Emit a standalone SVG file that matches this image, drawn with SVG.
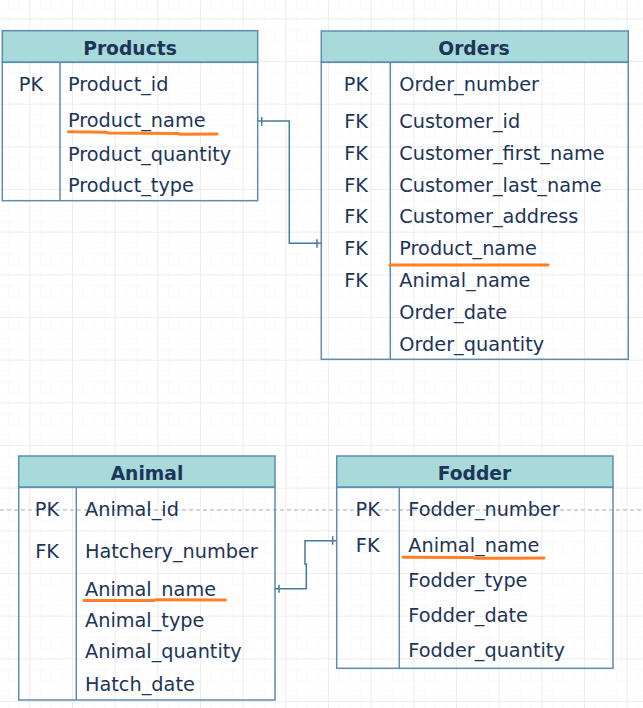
<svg xmlns="http://www.w3.org/2000/svg" width="643" height="708" viewBox="0 0 643 708">
<defs>
<pattern id="minor" x="29.3" y="18.3" width="10.667" height="10.667" patternUnits="userSpaceOnUse">
<path d="M0 0H10.667M0 0V10.667" fill="none" stroke="#f3f3f3" stroke-width="1"/>
</pattern>
<pattern id="major" x="29.3" y="18.3" width="42.667" height="42.667" patternUnits="userSpaceOnUse">
<path d="M0 0H42.667M0 0V42.667" fill="none" stroke="#e4e4e4" stroke-width="1.2"/>
</pattern>
<style>
.hdr{fill:#A8DADC;stroke:#5D8DB0;stroke-width:1.5}
.box{fill:none;stroke:#5D8DB0;stroke-width:1.5}
.ttl{font-family:"DejaVu Sans",Verdana,sans-serif;font-weight:bold;font-size:18.7px;fill:#1D3557;text-anchor:middle}
.txt{font-family:"DejaVu Sans",Verdana,sans-serif;font-size:19.3px;fill:#1D3557}
.key{font-family:"DejaVu Sans",Verdana,sans-serif;font-size:19.3px;fill:#1D3557;text-anchor:middle}
.ul{fill:none;stroke:#FF7F27;stroke-width:3;stroke-linecap:round}
.con{fill:none;stroke:#457B9D;stroke-width:1.5}
</style>
</defs>
<rect width="643" height="708" fill="#ffffff"/>
<rect width="643" height="708" fill="url(#minor)"/>
<rect width="643" height="708" fill="url(#major)"/>
<line x1="0" y1="510" x2="643" y2="510" stroke="#c6c6c6" stroke-width="1.5" stroke-dasharray="4 3"/>

<g id="products">
<rect class="hdr" x="2.3" y="30.7" width="255.4" height="31.6"/>
<rect class="box" x="2.3" y="62.3" width="255.4" height="138.4"/>
<line class="box" x1="60" y1="62.3" x2="60" y2="200.7"/>
<text class="ttl" x="130" y="55">Products</text>
<text class="key" x="31" y="91">PK</text>
<text class="txt" x="68" y="91">Product_id</text>
<text class="txt" x="68" y="127.3">Product_name</text>
<text class="txt" x="68" y="160.7">Product_quantity</text>
<text class="txt" x="68" y="191.7">Product_type</text>
<path class="ul" d="M68.5 131.8L106 132.2L108 133L178 133.4L180 134.2L217 134"/>
</g>

<g id="orders">
<rect class="hdr" x="321.3" y="31" width="307" height="31.3"/>
<rect class="box" x="321.3" y="62.3" width="307" height="297"/>
<line class="box" x1="390.3" y1="62.3" x2="390.3" y2="359.3"/>
<text class="ttl" x="474" y="54.5">Orders</text>
<text class="key" x="356" y="90.7">PK</text>
<text class="key" x="356" y="127.7">FK</text>
<text class="key" x="356" y="160">FK</text>
<text class="key" x="356" y="191.7">FK</text>
<text class="key" x="356" y="223.3">FK</text>
<text class="key" x="356" y="255">FK</text>
<text class="key" x="356" y="287.3">FK</text>
<text class="txt" x="399.3" y="90.7">Order_number</text>
<text class="txt" x="399.3" y="127.7">Customer_id</text>
<text class="txt" x="399.3" y="160">Customer_first_name</text>
<text class="txt" x="399.3" y="191.7">Customer_last_name</text>
<text class="txt" x="399.3" y="223.3">Customer_address</text>
<text class="txt" x="399.3" y="255">Product_name</text>
<text class="txt" x="399.3" y="287.3">Animal_name</text>
<text class="txt" x="399.3" y="319">Order_date</text>
<text class="txt" x="399.3" y="351">Order_quantity</text>
<path class="ul" d="M390 265H548"/>
</g>

<g id="animal">
<rect class="hdr" x="18.7" y="456" width="256.3" height="31.3"/>
<rect class="box" x="18.7" y="487.3" width="256.3" height="212.7"/>
<line class="box" x1="76.3" y1="487.3" x2="76.3" y2="700"/>
<text class="ttl" x="147" y="479.5">Animal</text>
<text class="key" x="47" y="515.7">PK</text>
<text class="key" x="47" y="557.7">FK</text>
<text class="txt" x="85" y="515.7">Animal_id</text>
<text class="txt" x="85" y="557.7">Hatchery_number</text>
<text class="txt" x="85" y="595.7">Animal_name</text>
<text class="txt" x="85" y="626.7">Animal_type</text>
<text class="txt" x="85" y="658.3">Animal_quantity</text>
<text class="txt" x="85" y="691">Hatch_date</text>
<path class="ul" d="M84 600.5L154 600.5L156 599.7L225.5 599.9"/>
</g>

<g id="fodder">
<rect class="hdr" x="336.7" y="456" width="276.3" height="31.3"/>
<rect class="box" x="336.7" y="487.3" width="276.3" height="181"/>
<line class="box" x1="399.3" y1="487.3" x2="399.3" y2="668.3"/>
<text class="ttl" x="474.5" y="479.5">Fodder</text>
<text class="key" x="367.7" y="515.7">PK</text>
<text class="key" x="367.7" y="552.3">FK</text>
<text class="txt" x="408.3" y="515.7">Fodder_number</text>
<text class="txt" x="408.3" y="552.3">Animal_name</text>
<text class="txt" x="408.3" y="587.3">Fodder_type</text>
<text class="txt" x="408.3" y="621.7">Fodder_date</text>
<text class="txt" x="408.3" y="656.7">Fodder_quantity</text>
<path class="ul" d="M403 557.3L473 557.6L475 558.3L544 558"/>
</g>

<g id="connectors">
<path class="con" d="M257.7 121H289.3V243.3H321"/>
<path class="con" d="M261.7 117V125.7M317 239.3V247.7"/>
<path class="con" d="M274.7 588.7H306.3V564H305V540.7H336.3"/>
<path class="con" d="M279 584.7V592.7M332.7 536.3V544.7"/>
</g>
</svg>
